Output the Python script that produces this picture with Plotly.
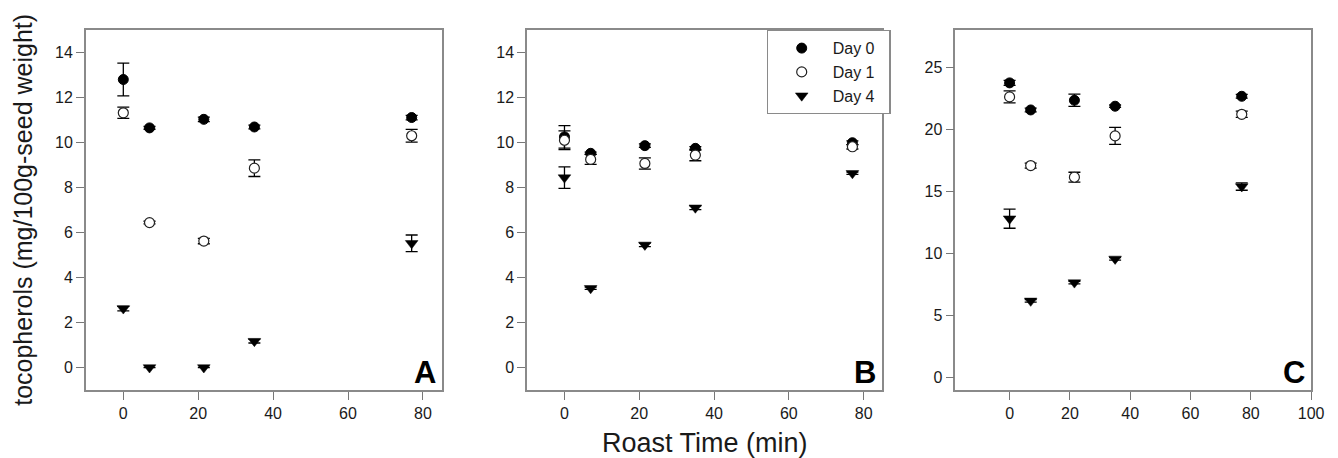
import plotly.graph_objects as go

# ---- data ----
roast_time = [0, 7, 21.5, 35, 77]
series_names = ["Day 0", "Day 1", "Day 4"]

# Panel A
a_day0 = [12.8, 10.65, 11.03, 10.69, 11.11]
a_day0_err = [0.73, 0.06, 0.1, 0.08, 0.1]
a_day1 = [11.32, 6.44, 5.62, 8.86, 10.3]
a_day1_err = [0.25, 0.06, 0.12, 0.37, 0.28]
a_day4 = [2.62, 0.0, 0.0, 1.17, 5.52]
a_day4_err = [0.1, 0.0, 0.0, 0.08, 0.37]

# Panel B
b_day0 = [10.25, 9.52, 9.86, 9.74, 9.99]
b_day0_err = [0.5, 0.05, 0.08, 0.08, 0.08]
b_day1 = [10.1, 9.25, 9.07, 9.44, 9.81]
b_day1_err = [0.42, 0.22, 0.25, 0.25, 0.1]
b_day4 = [8.44, 3.52, 5.45, 7.1, 8.63]
b_day4_err = [0.48, 0.05, 0.08, 0.08, 0.05]

# Panel C
c_day0 = [23.74, 21.56, 22.34, 21.86, 22.66]
c_day0_err = [0.2, 0.15, 0.5, 0.1, 0.15]
c_day1 = [22.61, 17.08, 16.14, 19.47, 21.21]
c_day1_err = [0.48, 0.2, 0.4, 0.68, 0.25]
c_day4 = [12.8, 6.18, 7.65, 9.56, 15.39]
c_day4_err = [0.77, 0.1, 0.1, 0.1, 0.3]

panel_letters = ["A", "B", "C"]
x_ticks_ab = [0, 20, 40, 60, 80]
x_ticks_c = [0, 20, 40, 60, 80, 100]
y_ticks_ab = [0, 2, 4, 6, 8, 10, 12, 14]
y_ticks_c = [0, 5, 10, 15, 20, 25]

panels = [
    (a_day0, a_day0_err, a_day1, a_day1_err, a_day4, a_day4_err),
    (b_day0, b_day0_err, b_day1, b_day1_err, b_day4, b_day4_err),
    (c_day0, c_day0_err, c_day1, c_day1_err, c_day4, c_day4_err),
]

FONT = "Liberation Sans, Arial, sans-serif"
styles = [
    dict(symbol="circle", size=10, color="black", line=dict(color="black", width=1)),
    dict(symbol="circle", size=10, color="white", line=dict(color="#222", width=1.2)),
    dict(symbol="triangle-down", size=11, color="black", line=dict(color="black", width=0.5)),
]

fig = go.Figure()
for pi, p in enumerate(panels):
    ax = "" if pi == 0 else str(pi + 1)
    for si in range(3):
        vals, errs = p[2 * si], p[2 * si + 1]
        fig.add_trace(go.Scatter(
            x=roast_time, y=vals, mode="markers", name=series_names[si] + "&nbsp;&nbsp;",
            marker=styles[si],
            error_y=dict(type="data", array=errs, visible=True, color="black",
                         thickness=1.3, width=6),
            showlegend=(pi == 1),
            xaxis="x" + ax, yaxis="y" + ax,
        ))

domains = [[0.0648, 0.3333], [0.3978, 0.6659], [0.7210, 0.9895]]
xranges = [[-10, 85], [-10, 85], [-18, 100]]
yranges = [[-1, 15], [-1, 15], [-1, 28]]
xticks = [x_ticks_ab, x_ticks_ab, x_ticks_c]
yticks = [y_ticks_ab, y_ticks_ab, y_ticks_c]

axis_common = dict(showgrid=False, zeroline=False, showline=True, mirror=True,
                   linecolor="#8a8a8a", linewidth=1.5, ticks="outside",
                   ticklen=8, tickwidth=1, tickcolor="#777",
                   tickfont=dict(family=FONT, size=16, color="#1a1a1a"))
layout = {}
for i in range(3):
    ax = "" if i == 0 else str(i + 1)
    layout["xaxis" + ax] = dict(domain=domains[i], range=xranges[i], tickvals=xticks[i],
                                anchor="y" + ax, **axis_common)
    layout["yaxis" + ax] = dict(domain=[0, 1], range=yranges[i], tickvals=yticks[i],
                                anchor="x" + ax, **axis_common)

annotations = []
for i, letter in enumerate(panel_letters):
    ax = "" if i == 0 else str(i + 1)
    annotations.append(dict(text="<b>%s</b>" % letter, xref="x%s domain" % ax,
                            yref="y%s domain" % ax, x=1, y=0, xanchor="right",
                            yanchor="bottom", xshift=-4, yshift=-2, showarrow=False,
                            font=dict(family=FONT, size=31, color="black")))
annotations.append(dict(text="tocopherols (mg/100g-seed weight)", xref="paper", yref="paper",
                        x=0.0172, y=0.5, xanchor="center", yanchor="middle", textangle=-90,
                        showarrow=False, font=dict(family=FONT, size=25, color="#1a1a1a")))
annotations.append(dict(text="Roast Time (min)", xref="paper", yref="paper",
                        x=0.532, y=-0.146, xanchor="center", yanchor="middle",
                        showarrow=False, font=dict(family=FONT, size=27, color="#1a1a1a")))

fig.update_layout(
    width=1338, height=458,
    margin=dict(l=0, r=0, t=30, b=68, pad=0),
    paper_bgcolor="white", plot_bgcolor="white",
    annotations=annotations,
    legend=dict(x=0.5785, y=1, xanchor="left", yanchor="top",
                bordercolor="#8a8a8a", borderwidth=1.2, bgcolor="white",
                font=dict(family=FONT, size=16, color="#1a1a1a"),
                itemwidth=52, indentation=3, tracegroupgap=0),
    **layout,
)
fig.write_html("out.html", config={"displayModeBar": False},
               post_script="document.body.style.margin='0';")
